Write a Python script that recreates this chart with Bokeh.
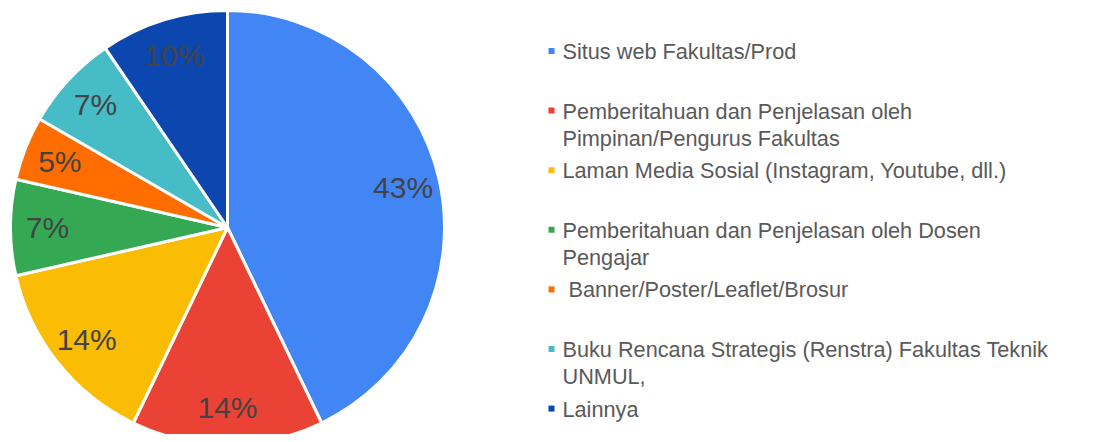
import math
from bokeh.plotting import figure
from bokeh.models import Range1d, ColumnDataSource
from bokeh.core.properties import value
from bokeh.embed import file_html
from bokeh.resources import INLINE

# ---- data ----
categories = [
    "Situs web Fakultas/Prod",
    "Pemberitahuan dan Penjelasan oleh Pimpinan/Pengurus Fakultas",
    "Laman Media Sosial (Instagram, Youtube, dll.)",
    "Pemberitahuan dan Penjelasan oleh Dosen Pengajar",
    " Banner/Poster/Leaflet/Brosur",
    "Buku Rencana Strategis (Renstra) Fakultas Teknik UNMUL,",
    "Lainnya",
]
legend_labels = [
    "Situs web Fakultas/Prod",
    "Pemberitahuan dan Penjelasan oleh\nPimpinan/Pengurus Fakultas",
    "Laman Media Sosial (Instagram, Youtube, dll.)",
    "Pemberitahuan dan Penjelasan oleh Dosen\nPengajar",
    "\u00a0Banner/Poster/Leaflet/Brosur",
    "Buku Rencana Strategis (Renstra) Fakultas Teknik\nUNMUL,",
    "Lainnya",
]
counts = [18, 6, 6, 3, 2, 3, 4]
colors = ["#4285F4", "#EA4335", "#FBBC04", "#34A853", "#FF6D01", "#46BDC6", "#0B47AE"]

# ---- layout ----
W, H = 1095, 434
FONT = "Liberation Sans"
cx, cy, R = 227, H - 227, 217

total = sum(counts)
starts, ends, mids, pct = [], [], [], []
acc = 0.0
for c in counts:
    f0 = acc / total
    acc += c
    f1 = acc / total
    # clockwise from 12 o'clock
    starts.append(math.pi / 2 - f1 * 2 * math.pi)
    ends.append(math.pi / 2 - f0 * 2 * math.pi)
    mids.append(math.pi / 2 - (f0 + f1) / 2 * 2 * math.pi)
    pct.append(f"{round(c / total * 100)}%")

lr = 0.83 * R
src = ColumnDataSource(dict(
    start=starts, end=ends, color=colors, cat=categories,
    lx=[cx + lr * math.cos(a) for a in mids],
    ly=[cy + lr * math.sin(a) for a in mids],
    pct=pct,
))

p = figure(width=W, height=H, x_range=Range1d(0, W), y_range=Range1d(0, H),
           x_axis_type=None, y_axis_type=None, toolbar_location=None,
           output_backend="svg", min_border=0, outline_line_color=None,
           background_fill_color="white", border_fill_color="white")
p.grid.visible = False

p.wedge(x=cx, y=cy, radius=R, start_angle="start", end_angle="end",
        direction="anticlock", fill_color="color", line_color="white",
        line_width=3, source=src)
p.text(x="lx", y="ly", text="pct", source=src, text_align="center",
       text_baseline="middle", text_font=value(FONT), text_font_size="30px",
       text_color="#434343")

# legend
n = len(categories)
ly0 = H - 50.5
step = 59.6
leg_y = [ly0 - i * step for i in range(n)]
lsrc = ColumnDataSource(dict(y=leg_y, ty=[y + 12 for y in leg_y],
                             color=colors, label=legend_labels))
p.scatter(x=551, y="y", size=6, marker="square", fill_color="color",
          line_color=None, source=lsrc)
p.text(x=562, y="ty", text="label", source=lsrc, text_align="left",
       text_baseline="top", text_font=value(FONT), text_font_size="21.7px",
       text_color="#595959", text_line_height=1.08)

open("out.html", "w").write(file_html(p, INLINE))
